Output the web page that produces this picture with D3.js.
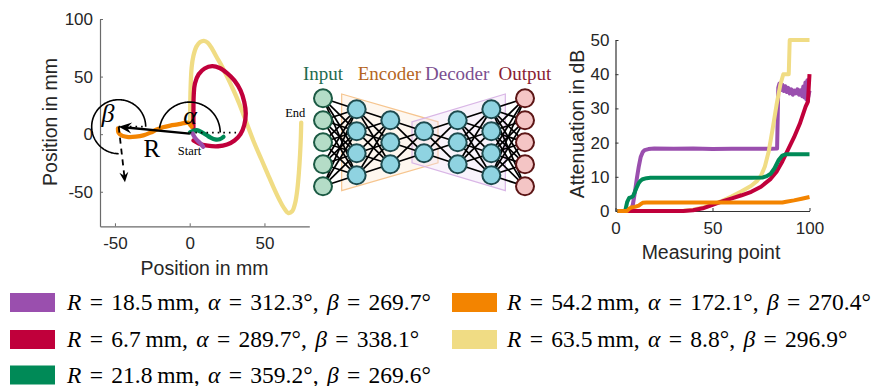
<!DOCTYPE html>
<html><head><meta charset="utf-8">
<script src="https://cdn.jsdelivr.net/npm/d3@7"></script>
<style>body{margin:0;background:#fff}svg{display:block}</style>
</head><body>
<svg id="c" width="873" height="386"></svg>
<script>
// ---------- DATA ----------
const seriesKeys   = ["purple","crimson","green","orange","yellow"];
const seriesColors = ["#9a4fae","#c0003b","#008a57","#f38400","#f0dc84"];
const radiusR = ["18.5","6.7","21.8","54.2","63.5"];
const alphaDeg = ["312.3","289.7","359.2","172.1","8.8"];
const betaDeg  = ["269.7","338.1","269.6","270.4","296.9"];

// Left plot: trajectories (x, y in mm)
const trajPurple  = [[2,0.5],[3.5,-3],[5.5,-6],[7.5,-8.5],[9,-11]];
const trajCrimson = [[2.5,-5.5],[6,-8],[12,-10],[19,-10.5],[25,-9],[30,-5.5],[34,0],[36.5,8],[37.5,18],[36.5,28],[34,38],[30,46.5],[25,53],[20,57.5],[15,59],[10,57],[6,52],[3.5,44],[2.7,34],[2.5,20],[2.5,5]];
const trajGreen   = [[0.2,1.5],[2.5,3],[4.7,3.5],[8,1.8],[11.4,-0.9],[14,-3],[17,-4.6],[20,-4.4],[22.6,-2.3]];
const trajOrange  = [[1.3,6.5],[-1,10],[-4,9.5],[-8,8.5],[-13,7.5],[-18,6],[-22,4],[-26,1.5],[-31,-1],[-36,-2.2],[-41,-2.5],[-45,-1.5],[-47.5,1],[-48,5]];
const trajYellow  = [[0.3,8],[0.3,20],[0.6,40],[1.3,58],[2.5,68],[4.5,76],[7,80],[9.5,81],[12,79.5],[15,74],[18,67],[21.5,59],[25,50],[29,39],[33,27],[38,10],[43,-7],[48,-22],[52,-34],[56,-46],[60,-57],[63,-64],[66,-68.5],[68.5,-67],[70.5,-60],[72,-48],[73,-34],[73.8,-18],[74.3,-4],[74.6,10]];
const trajectories = [trajPurple, trajCrimson, trajGreen, trajOrange, trajYellow];
const leftXTicks = [-50,0,50];
const leftYTicks = [-50,0,50,100];

// Right plot: attenuation (measuring point, dB)
const attPurple  = [[1,0],[8,0],[9,2],[10,5.5],[11,9.5],[12,13],[13,15.8],[14,17.2],[15,17.8],[17,18.1],[20,18.3],[30,18.2],[40,18.3],[50,18.1],[60,18.2],[70,18.2],[80,18.2],[83.3,18.3],[83.6,27],[83.9,36],[84.5,37.3],[85.3,35.4],[86,36.9],[86.8,35.1],[87.5,36.5],[88.3,34.8],[89,36],[89.8,34.4],[90.6,35.6],[91.4,34],[92.2,35.2],[93,34.4],[93.8,35.6],[94.6,34],[95.4,35.3],[96.2,33.6],[96.8,36.4],[97.4,33.2],[97.9,37.6],[98.4,32.6],[98.9,38.2],[99.4,33.4],[100,35.2]];
const attCrimson = [[1,0],[35,0],[40,0.2],[45,0.8],[50,1.8],[55,2.8],[60,3.7],[65,4.6],[70,5.6],[75,7.1],[80,9.4],[83,11.5],[86,14.5],[89,18],[92,21.5],[95,25.5],[98,30.5],[99.2,32],[99.6,36],[100,40]];
const attGreen   = [[1,0],[5,0],[6,2.6],[7,3.8],[8,4],[9,4.3],[10,5.6],[11,7],[12,8.2],[13,8.9],[14,9.3],[16,9.6],[18,9.7],[30,9.7],[50,9.7],[70,9.7],[76,9.8],[78,10.2],[80,10.9],[82,12.5],[84,14.8],[86,16.2],[88,16.6],[100,16.6]];
const attOrange  = [[1,0],[6,0],[7,0.6],[8,1],[10,1.2],[12,1.6],[13,2],[14,2.4],[16,2.5],[30,2.5],[50,2.5],[70,2.5],[86,2.5],[88,2.7],[92,3.1],[96,3.6],[100,4.1]];
const attYellow  = [[1,0],[30,0],[35,0.1],[40,0.4],[45,1],[50,1.9],[55,3],[60,4.3],[65,5.8],[70,7.4],[73,8.8],[75,10.3],[77,13],[79,17.5],[81,24],[83,31],[85,37],[86.5,40],[89.3,40],[89.8,50],[100,50]];
const attenuations = [attPurple, attCrimson, attGreen, attOrange, attYellow];
const rightXTicks = [0,50,100];
const rightYTicks = [0,10,20,30,40,50];

// Network
const nnLayerSizes = [5,4,3,2,3,4,5];
const nnLabels = ["Input","Encoder","Decoder","Output"];

// ---------- DRAW ----------
const svg = d3.select("#c");
const sans = "'Liberation Sans', Arial, Helvetica, sans-serif";
const serif = "'Liberation Serif', 'Times New Roman', serif";
const txt = "#262626";

function axes(g, x, y, xt, yt, col, padX, padY){
  const gx = g.append("g").attr("transform",`translate(0,${y.range()[0]})`)
    .call(d3.axisBottom(x).tickValues(xt).tickSizeInner(-3).tickSizeOuter(0).tickPadding(padX).tickFormat(d=>String(d)));
  const gy = g.append("g").attr("transform",`translate(${x.range()[0]},0)`)
    .call(d3.axisLeft(y).tickValues(yt).tickSizeInner(-3).tickSizeOuter(0).tickPadding(padY).tickFormat(d=>String(d)));
  [gx,gy].forEach(a=>{
    a.select(".domain").attr("stroke",col).attr("stroke-width",1.2);
    a.selectAll(".tick line").attr("stroke",col).attr("stroke-width",1);
    a.selectAll(".tick text").attr("fill",txt).style("font-family",sans).style("font-size","17px");
  });
}

// Left plot
const xL = d3.scaleLinear().domain([-60,80]).range([100,309.3]);
const yL = d3.scaleLinear().domain([-80,100]).range([226.3,19]);
const gL = svg.append("g");
axes(gL, xL, yL, leftXTicks, leftYTicks, "#6a6a6a", 11, 7);
gL.append("text").attr("x",204.5).attr("y",275).attr("text-anchor","middle")
  .style("font-family",sans).style("font-size","19.5px").attr("fill",txt).text("Position in mm");
gL.append("text").attr("transform","translate(57,122) rotate(-90)").attr("text-anchor","middle")
  .style("font-family",sans).style("font-size","19.5px").attr("fill",txt).text("Position in mm");

const lineL = d3.line().x(d=>xL(d[0])).y(d=>yL(d[1])).curve(d3.curveCatmullRom);
const leftOrder = [4,1,3,2,0];
leftOrder.forEach(i=>{
  gL.append("path").datum(trajectories[i]).attr("d",lineL).attr("fill","none")
    .attr("stroke",seriesColors[i]).attr("stroke-width",4.3).attr("stroke-linecap","round").attr("stroke-linejoin","round");
});

// Annotations (data coordinates)
const origin = [0,0.5], tip = [-47.5,6.5], dashEnd = [-43.3,-41.7];
const ox = xL(origin[0]), oy = yL(origin[1]), tx = xL(tip[0]), ty = yL(tip[1]);
function arcPath(cx,cy,r,a0,a1){
  const pts = d3.range(a0, a1+0.01, 2).map(a=>[cx + r*Math.cos(a*Math.PI/180), cy - r*Math.sin(a*Math.PI/180)]);
  return d3.line()(pts);
}
gL.append("path").attr("d",arcPath(ox,oy-1,30.5,0,172.1)).attr("fill","none").attr("stroke","#000").attr("stroke-width",1.6);
gL.append("path").attr("d",arcPath(tx,ty,27,0,270.4)).attr("fill","none").attr("stroke","#000").attr("stroke-width",1.6);
gL.append("line").attr("x1",ox).attr("y1",oy-1).attr("x2",xL(31)).attr("y2",oy-1)
  .attr("stroke","#000").attr("stroke-width",1.8).attr("stroke-dasharray","1.6,4");
gL.append("line").attr("x1",tx).attr("y1",ty).attr("x2",xL(-30)).attr("y2",ty)
  .attr("stroke","#000").attr("stroke-width",1.8).attr("stroke-dasharray","1.6,4");
function arrowHead(g,x0,y0,x1,y1,len,wid){
  const ang = Math.atan2(y1-y0,x1-x0), c=Math.cos(ang), s=Math.sin(ang);
  const p = (a,b)=>[x1 + a*c - b*s, y1 + a*s + b*c];
  const pts=[p(0,0),p(-len,-wid/2),p(-len*0.65,0),p(-len,wid/2)];
  g.append("path").attr("d",d3.line()(pts)+"Z").attr("fill","#000");
}
gL.append("line").attr("x1",ox).attr("y1",oy).attr("x2",tx+5).attr("y2",ty+0.5).attr("stroke","#000").attr("stroke-width",2.4);
arrowHead(gL,ox,oy,tx,ty,13,11);
const dx = xL(dashEnd[0]), dy = yL(dashEnd[1]);
gL.append("line").attr("x1",tx).attr("y1",ty).attr("x2",dx-0.5).attr("y2",dy-5)
  .attr("stroke","#000").attr("stroke-width",1.8).attr("stroke-dasharray","6,5");
arrowHead(gL,tx,ty,dx,dy,10,9);
gL.append("text").attr("x",xL(-54.6)).attr("y",yL(18.3)).attr("dy","0.35em").attr("text-anchor","middle")
  .style("font-family",serif).style("font-style","italic").style("font-size","26px").text("β");
gL.append("text").attr("x",xL(0.3)).attr("y",yL(15.6)).attr("dy","0.3em").attr("text-anchor","middle")
  .style("font-family",serif).style("font-style","italic").style("font-size","26px").text("α");
gL.append("text").attr("x",xL(-25.4)).attr("y",yL(-12.2)).attr("dy","0.35em").attr("text-anchor","middle")
  .style("font-family",serif).style("font-size","25px").text("R");
gL.append("text").attr("x",xL(-0.1)).attr("y",yL(-14)).attr("dy","0.35em").attr("text-anchor","middle")
  .style("font-family",serif).style("font-size","12.5px").text("Start");
gL.append("text").attr("x",xL(70.6)).attr("y",yL(18.3)).attr("dy","0.35em").attr("text-anchor","middle")
  .style("font-family",serif).style("font-size","12.5px").text("End");

// Network diagram
const gN = svg.append("g");
const xN = d3.scalePoint().domain(d3.range(nnLayerSizes.length)).range([323,525]);
const yC = 142.3, dyN = 22, rN = 9;
const nodes = nnLayerSizes.map((n,li)=>d3.range(n).map(k=>({l:li,x:xN(li),y:yC+(k-(n-1)/2)*dyN})));
const outerH = 48.3, innerH = 20.5;
const enc = [[xN(1)-15,yC-outerH],[xN(3)+14,yC-innerH],[xN(3)+14,yC+innerH],[xN(1)-15,yC+outerH]];
const dec = [[xN(3)-12,yC-innerH],[xN(5)+14,yC-outerH],[xN(5)+14,yC+outerH],[xN(3)-12,yC+innerH]];
gN.append("path").attr("d",d3.line()(enc)+"Z").attr("fill","#fbe9d2").attr("fill-opacity",0.35).attr("stroke","#f6c58f").attr("stroke-width",1.2);
gN.append("path").attr("d",d3.line()(dec)+"Z").attr("fill","#eedcf5").attr("fill-opacity",0.35).attr("stroke","#d9b6e6").attr("stroke-width",1.2);
for(let li=0; li<nodes.length-1; li++){
  nodes[li].forEach(a=>nodes[li+1].forEach(b=>{
    gN.append("line").attr("x1",a.x).attr("y1",a.y).attr("x2",b.x).attr("y2",b.y).attr("stroke","#000").attr("stroke-width",1.7);
  }));
}
nodes.flat().forEach(n=>{
  const first = n.l===0, last = n.l===nnLayerSizes.length-1;
  gN.append("circle").attr("cx",n.x).attr("cy",n.y).attr("r",rN)
    .attr("fill", first?"#b4dcc7":last?"#f4c5c5":"#8fd3e1")
    .attr("stroke", first?"#1c5a44":last?"#5c1616":"#1d4a4e").attr("stroke-width",2);
});
const nnLabelX = [xN(0), (xN(1)+xN(3))/2 - 1, (xN(3)+xN(5))/2 - 0.5, xN(6)];
const nnLabelCol = ["#1e6b4e","#b5661d","#7b4f90","#8a1c33"];
nnLabels.forEach((t,i)=>{
  gN.append("text").attr("x",nnLabelX[i]).attr("y",80).attr("text-anchor","middle")
    .style("font-family",serif).style("font-size","19px").attr("fill",nnLabelCol[i]).text(t);
});

// Right plot
const xR = d3.scaleLinear().domain([0,100]).range([615.5,809.5]);
const yR = d3.scaleLinear().domain([0,50]).range([211,40]);
const gR = svg.append("g");
axes(gR, xR, yR, rightXTicks, rightYTicks, "#333", 10.5, 6);
gR.append("text").attr("x",711).attr("y",258.5).attr("text-anchor","middle")
  .style("font-family",sans).style("font-size","19.5px").attr("fill",txt).text("Measuring point");
gR.append("text").attr("transform","translate(584,124) rotate(-90)").attr("text-anchor","middle")
  .style("font-family",sans).style("font-size","19.5px").attr("fill",txt).text("Attenuation in dB");
const lineR = d3.line().x(d=>xR(d[0])).y(d=>yR(d[1]));
const rightOrder = [0,4,1,2,3];
rightOrder.forEach(i=>{
  gR.append("path").datum(attenuations[i]).attr("d",lineR).attr("fill","none")
    .attr("stroke",seriesColors[i]).attr("stroke-width",4).attr("stroke-linejoin","round");
});

// Legend
const gLeg = svg.append("g");
const legCol = [0,0,0,1,1], legRow = [0,1,2,0,1];
const colSwX = [10,452], colTxX = [67,507], rowBase = [310,347,382.5];
seriesKeys.forEach((k,i)=>{
  const c = legCol[i], r = legRow[i];
  gLeg.append("rect").attr("x",colSwX[c]).attr("y",rowBase[r]-17).attr("width",45).attr("height",19).attr("fill",seriesColors[i]);
  const t = gLeg.append("text").attr("x",colTxX[c]).attr("y",rowBase[r])
    .style("font-family",serif).style("font-size","23.5px").style("word-spacing","2.5px").attr("fill","#000");
  t.append("tspan").style("font-style","italic").text("R");
  t.append("tspan").text(` = ${radiusR[i]}\u2009mm, `);
  t.append("tspan").style("font-style","italic").text("α");
  t.append("tspan").text(` = ${alphaDeg[i]}°, `);
  t.append("tspan").style("font-style","italic").text("β");
  t.append("tspan").text(` = ${betaDeg[i]}°`);
});
</script>
</body></html>
